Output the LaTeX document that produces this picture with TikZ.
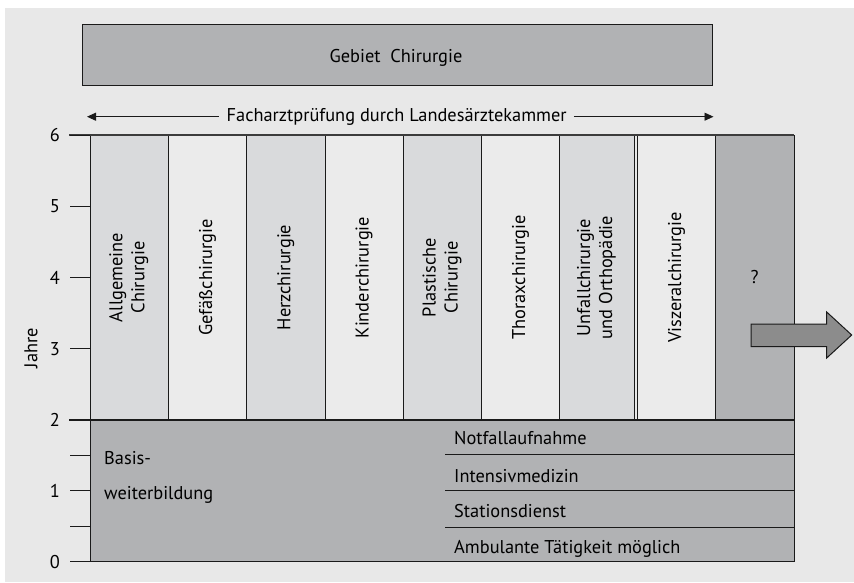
\documentclass[tikz,border=0pt]{standalone}
\usepackage{fontspec}
\setmainfont{PT Sans}
\usepackage{graphicx}
\usetikzlibrary{arrows.meta}
\definecolor{bgc}{HTML}{E8E8E8}
\definecolor{maingray}{HTML}{B1B2B4}
\definecolor{lightcol}{HTML}{D9DADC}
\definecolor{palecol}{HTML}{EBEBEB}
\definecolor{arrowgray}{HTML}{8C8C8C}
\definecolor{ink}{HTML}{1A1A1A}
\newcommand{\lblfont}{\fontsize{18.5}{21}\selectfont}
\newlength{\fachlen}
\settowidth{\fachlen}{\lblfont Facharztprüfung durch Landesärztekammer}
\pgfmathsetmacro{\sx}{340/\fachlen}
\newcommand{\cs}[1]{\scalebox{\sx}[1]{#1}}
\newcommand{\rcs}[1]{\rotatebox{90}{\scalebox{\sx}[1]{#1}}}
\tikzset{
  colbox/.style={draw=ink, line width=0.9pt, minimum width=78.33pt, minimum height=285pt, inner sep=0pt, outer sep=0pt, anchor=north west, font=\lblfont},
  lightc/.style={colbox, fill=lightcol},
  palec/.style={colbox, fill=palecol},
  tick/.style={draw=ink, line width=1pt},
  numlab/.style={anchor=base east, font=\lblfont, inner sep=0pt},
  rowlab/.style={anchor=base west, font=\lblfont, inner sep=0pt},
  rowline/.style={draw=ink, line width=1pt},
}
\begin{document}
\begin{tikzpicture}[x=1pt,y=-1pt]
\useasboundingbox (0,0) rectangle (854,582);
\fill[white] (0,0) rectangle (854,582);
\fill[bgc] (5,8) rectangle (854,582);
% Gebiet box
\node[draw=ink, line width=0.9pt, fill=maingray, minimum width=630.5pt, minimum height=61pt, anchor=north west, inner sep=0pt, outer sep=0pt] (gebiet) at (82,24) {};
\node[anchor=base, font=\lblfont, inner sep=0pt] (gebiettxt) at (396,62) {\cs{Gebiet\ \ Chirurgie}};
% Facharzt arrow
\coordinate (fl) at (87,116.7);
\coordinate (fr) at (713.5,116.7);
\node[anchor=base, font=\lblfont, inner sep=0pt] (fach) at (396.7,121) {\cs{Facharztprüfung durch Landesärztekammer}};
\coordinate (fachw) at ([xshift=-8pt]fach.west |- fl);
\coordinate (fache) at ([xshift=7pt]fach.east |- fr);
\draw[ink, line width=0.9pt, -{Triangle[length=9pt,width=8pt]}] (fachw) -- (fl);
\draw[ink, line width=0.9pt, -{Triangle[length=9pt,width=8pt]}] (fache) -- (fr);
% Basis box
\node[draw=ink, line width=0.9pt, fill=maingray, minimum width=704pt, minimum height=141.7pt, anchor=north west, inner sep=0pt, outer sep=0pt] (basis) at (90,420) {};
% columns
\node[lightc] (c1) at (90,135) {\rcs{\begin{tabular}{@{}c@{}}Allgemeine\\[1pt]Chirurgie\end{tabular}}};
\node[palec] (c2) at (c1.north east) {\rcs{Gefäßchirurgie}};
\node[lightc] (c3) at (c2.north east) {\rcs{Herzchirurgie}};
\node[palec] (c4) at (c3.north east) {\rcs{Kinderchirurgie}};
\node[lightc] (c5) at (c4.north east) {\rcs{\begin{tabular}{@{}c@{}}Plastische\\[1pt]Chirurgie\end{tabular}}};
\node[palec, minimum width=77.8pt] (c6) at (c5.north east) {\rcs{Thoraxchirurgie}};
\node[lightc, minimum width=74.8pt] (c7) at (c6.north east) {\rcs{\begin{tabular}{@{}c@{}}Unfallchirurgie\\[1pt]und Orthopädie\end{tabular}}};
\node[palec, minimum width=77.6pt] (c8) at ([xshift=3.4pt]c7.north east) {\rcs{Viszeralchirurgie}};
\node[colbox, fill=maingray, minimum width=78.7pt] (c9) at (c8.north east) {\raisebox{-7pt}{\cs{?}}};
% thick lines top and middle
\draw[draw=ink!85, line width=2pt] (69,135) -- (c9.north east);
\draw[ink, line width=2.3pt] (69,420) -- (basis.north east);
% ticks and numbers
\foreach \v/\yy in {0/561.7,1/490.5,2/420,3/348.5,4/277.5,5/206.2,6/135} {
  \draw[tick] (70,\yy) -- (90,\yy);
  \node[numlab] (n\v) at (60,\yy+6.5) {\cs{\v}};
}
\draw[tick] (70,455) -- (90,455);
\draw[tick] (70,526) -- (90,526);
\node[rotate=90, font=\lblfont, inner sep=0pt] (jahre) at (31,348) {\cs{Jahre}};
% Basis text
\node[rowlab] (bas1) at (104,464.5) {\cs{Basis-}};
\node[rowlab] (bas2) at (104,499.5) {\cs{weiterbildung}};
% rows
\coordinate (r1l) at (445,454.5); \coordinate (r1r) at (794,454.5);
\coordinate (r2l) at (445,490.5); \coordinate (r2r) at (794,490.5);
\coordinate (r3l) at (445,527.5); \coordinate (r3r) at (794,527.5);
\draw[rowline] (r1l) -- (r1r);
\draw[rowline] (r2l) -- (r2r);
\draw[rowline] (r3l) -- (r3r);
\node[rowlab] (t1) at (454,444.5) {\cs{Notfallaufnahme}};
\node[rowlab] (t2) at (454,482.5) {\cs{Intensivmedizin}};
\node[rowlab] (t3) at (454,517.5) {\cs{Stationsdienst}};
\node[rowlab] (t4) at (454,553) {\cs{Ambulante Tätigkeit möglich}};
% block arrow
\draw[ink, line width=1pt, fill=arrowgray, line join=miter]
  (751,324) -- (826.7,324) -- (826.7,312) -- (851.7,335) -- (826.7,358) -- (826.7,346.7) -- (751,346.7) -- cycle;
\end{tikzpicture}
\end{document}
